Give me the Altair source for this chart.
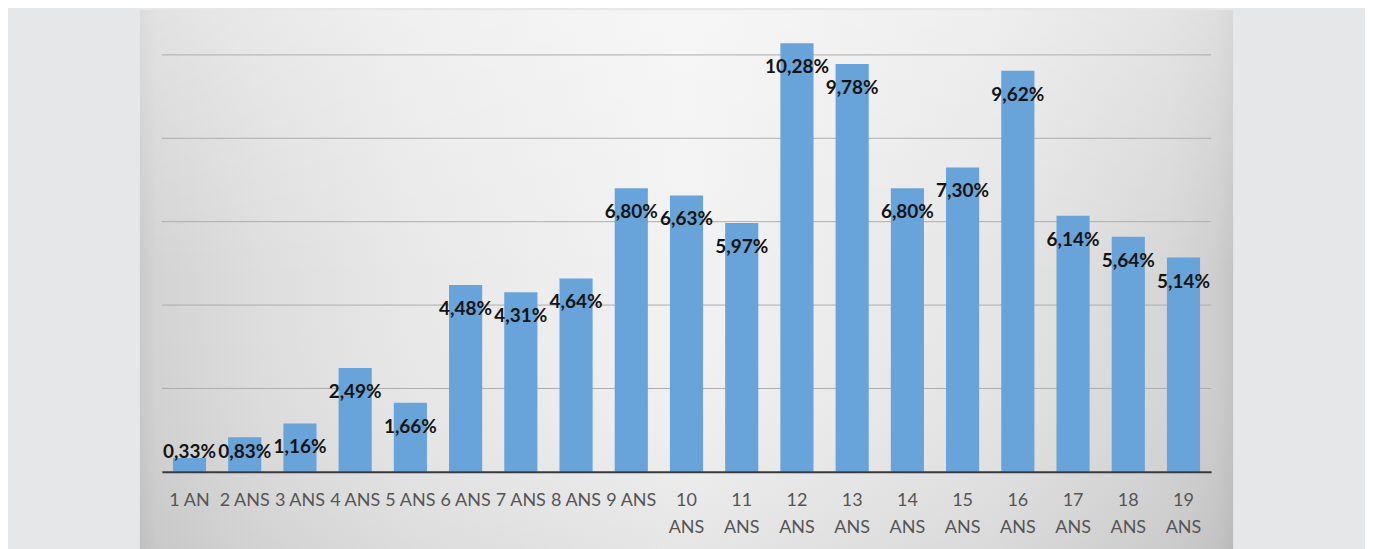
import altair as alt
import pandas as pd

categories = ["1 AN", "2 ANS", "3 ANS", "4 ANS", "5 ANS", "6 ANS", "7 ANS", "8 ANS", "9 ANS",
              "10 ANS", "11 ANS", "12 ANS", "13 ANS", "14 ANS", "15 ANS", "16 ANS", "17 ANS",
              "18 ANS", "19 ANS"]
values = [0.33, 0.83, 1.16, 2.49, 1.66, 4.48, 4.31, 4.64, 6.80,
          6.63, 5.97, 10.28, 9.78, 6.80, 7.30, 9.62, 6.14, 5.64, 5.14]
grid_values = [2, 4, 6, 8, 10]

df = pd.DataFrame({"cat": categories, "val": values})
df["lab"] = [f"{v:.2f}".replace(".", ",") + "%" for v in values]
grid_df = pd.DataFrame({"g": grid_values})

W, H = 1050, 459

xenc = alt.X("cat:N", sort=categories, title=None,
             scale=alt.Scale(paddingInner=0.4, paddingOuter=0.2),
             axis=alt.Axis(labelAngle=0, ticks=False, domain=True, domainColor="#3a3a3a",
                           domainWidth=2, labelFont="Lato", labelFontSize=18,
                           labelColor="#555555", labelPadding=20, labelLineHeight=27,
                           labelOverlap=False, labelLimit=200, zindex=1,
                           labelExpr="length(datum.label) > 5 ? split(datum.label, ' ') : datum.label"))
yscale = alt.Scale(domain=[0, 11], nice=False)

panel_h = alt.Chart(alt.Data(values=[{"a": 1}])).mark_rect(
    fill=alt.Gradient(
        gradient="linear", x1=0, x2=1, y1=0, y2=0,
        stops=[
            alt.GradientStop(offset=0, color="#c9c9c9"),
            alt.GradientStop(offset=0.015, color="#d3d3d3"),
            alt.GradientStop(offset=0.12, color="#dedede"),
            alt.GradientStop(offset=0.25, color="#e8e8e8"),
            alt.GradientStop(offset=0.5, color="#f2f2f2"),
            alt.GradientStop(offset=0.78, color="#e5e5e5"),
            alt.GradientStop(offset=0.94, color="#d6d6d6"),
            alt.GradientStop(offset=0.985, color="#cdcdcd"),
            alt.GradientStop(offset=1, color="#c4c4c4"),
        ],
    )
).encode(x=alt.value(-22), x2=alt.value(1072), y=alt.value(-3), y2=alt.value(540))

panel_v = alt.Chart(alt.Data(values=[{"a": 1}])).mark_rect(
    fill=alt.Gradient(
        gradient="linear", x1=0, x2=0, y1=0, y2=1,
        stops=[
            alt.GradientStop(offset=0, color="rgba(255,255,255,0.35)"),
            alt.GradientStop(offset=0.5, color="rgba(255,255,255,0)"),
            alt.GradientStop(offset=1, color="rgba(0,0,0,0.05)"),
        ],
    )
).encode(x=alt.value(-22), x2=alt.value(1072), y=alt.value(-3), y2=alt.value(540))

grid = alt.Chart(grid_df).mark_rule(color="#adadad", strokeWidth=1).encode(
    y=alt.Y("g:Q", scale=yscale, axis=None)
)

bars = alt.Chart(df).mark_bar(color="#68a3da").encode(
    x=xenc,
    y=alt.Y("val:Q", scale=yscale, axis=None),
)

labels = alt.Chart(df).transform_calculate(
    ly="max(datum.val - 0.575, 0.48)"
).mark_text(
    baseline="middle", align="center", font="Lato", fontWeight="bold",
    fontSize=19, color="#141414"
).encode(
    x=alt.X("cat:N", sort=categories),
    y=alt.Y("ly:Q", scale=yscale),
    text="lab:N",
)

chart = alt.layer(panel_h, panel_v, grid, bars, labels).properties(
    width=W, height=H,
    background="#e6e7e9",
    padding={"left": 154, "right": 154, "top": 5, "bottom": 80},
    autosize=alt.AutoSizeParams(type="none"),
).configure_view(stroke=None)

chart.save("out.html", embed_options={"renderer": "svg", "actions": False})
